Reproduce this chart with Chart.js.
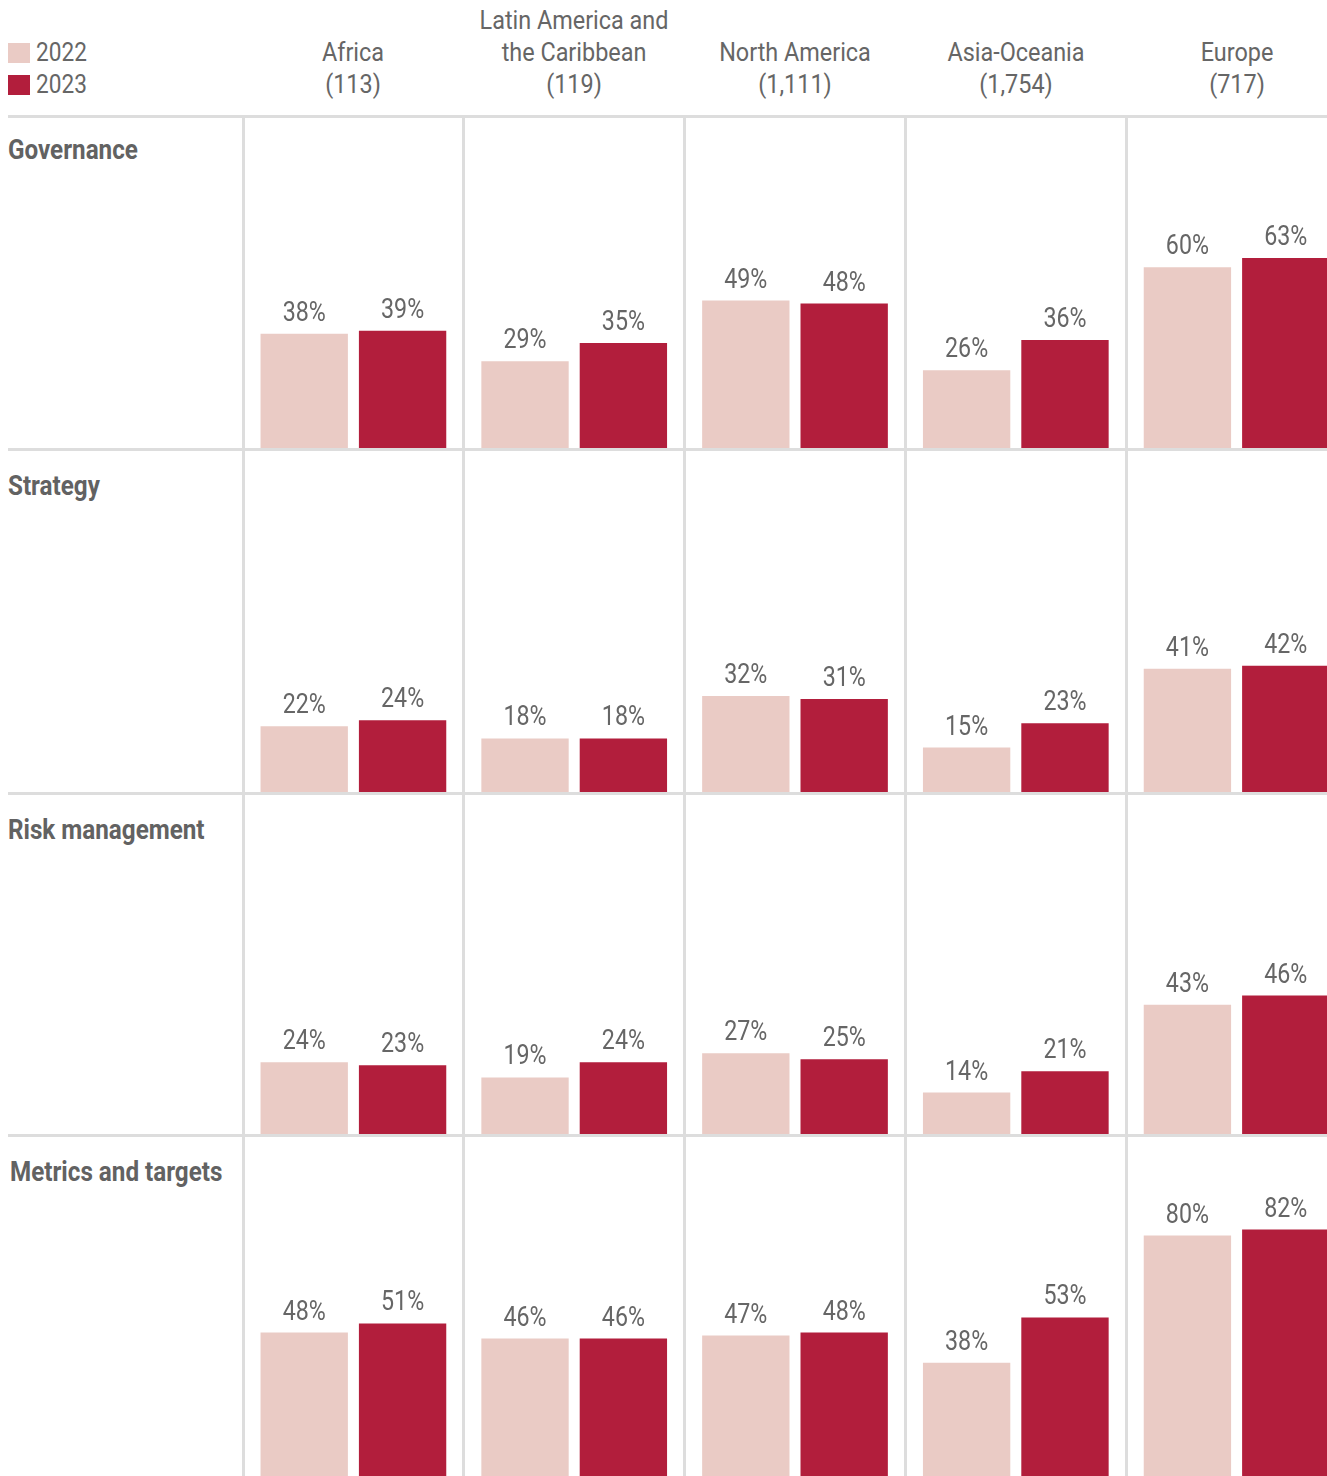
<!DOCTYPE html>
<html>
<head>
<meta charset="utf-8">
<script src="https://cdn.jsdelivr.net/npm/chart.js@4.4.1/dist/chart.umd.min.js"></script>
<style>
    body {
        margin: 0;
        width: 1327px;
        height: 1476px;
        overflow: hidden;
        background: #fff;
        position: relative;
        font-family: Roboto, 'Liberation Sans', sans-serif;
        color: #666;
    }
    .abs { position: absolute; }
    .hline { position: absolute; left: 8px; right: 0; height: 3px; background: #dddddd; z-index: 2; }
    .rowlabel { position: absolute; font-weight: bold; font-size: 28px; line-height: 30px; white-space: nowrap;
                transform: scaleX(0.865); transform-origin: left center; color: #626262; }
    .colhead { position: absolute; font-size: 26px; line-height: 32px; text-align: center; white-space: nowrap;
               transform: translateX(-50%) scaleX(0.9); }
    .legend-item { position: absolute; left: 8px; font-size: 26px; line-height: 32px; white-space: nowrap; }
    .legend-item span { display: inline-block; width: 22px; height: 20px; vertical-align: -2px; margin-right: 6px; }
    .legend-item b { font-weight: normal; display: inline-block; transform: scaleX(0.87); transform-origin: left center; }
</style>
</head>
<body>
<script>
// categories
const regions = ['Africa', 'Latin America and\nthe Caribbean', 'North America', 'Asia-Oceania', 'Europe'];
const regionCounts = ['113', '119', '1,111', '1,754', '717'];
const pillars = ['Governance', 'Strategy', 'Risk management', 'Metrics and targets'];
const years = ['2022', '2023'];

// share of companies disclosing (%), one list per pillar, in region order
const values2022 = [
    [38, 29, 49, 26, 60],   // governance
    [22, 18, 32, 15, 41],   // strategy
    [24, 19, 27, 14, 43],   // risk management
    [48, 46, 47, 38, 80]    // metrics and targets
];
const values2023 = [
    [39, 35, 48, 36, 63],
    [24, 18, 31, 23, 42],
    [23, 24, 25, 21, 46],
    [51, 46, 48, 53, 82]
];

// layout
const colors = ['#eacbc5', '#b21e3c'];
const rowLines = [116, 449, 793, 1135, 1478]; // separators, last one is below the page
const pxPerPct = 3.03;
const canvasLeft = 240;
const canvasWidth = 1110;
const labelFont = "27px Roboto, 'Liberation Sans', sans-serif";
const labelSqueeze = 0.86;

// value labels above bars (narrowed to look like a condensed face)
const valueLabels = {
    id: 'valueLabels',
    afterDatasetsDraw(chart) {
        const ctx = chart.ctx;
        ctx.save();
        ctx.font = labelFont;
        ctx.fillStyle = '#666';
        ctx.textAlign = 'center';
        ctx.textBaseline = 'alphabetic';
        chart.data.datasets.forEach((ds, i) => {
            chart.getDatasetMeta(i).data.forEach((bar, j) => {
                ctx.save();
                ctx.translate(bar.x, bar.y - 13);
                ctx.scale(labelSqueeze, 1);
                ctx.fillText(ds.data[j] + '%', 0, 0);
                ctx.restore();
            });
        });
        ctx.restore();
    }
};

function createRowChart(rowIndex) {
    const top = rowIndex == 0 ? rowLines[0] + 2 : rowLines[rowIndex];
    const bottom = rowLines[rowIndex + 1];
    const h = bottom - top;

    const wrap = document.createElement('div');
    wrap.className = 'abs';
    wrap.style.left = canvasLeft + 'px';
    wrap.style.top = top + 'px';
    const canvas = document.createElement('canvas');
    canvas.width = canvasWidth;
    canvas.height = h;
    wrap.appendChild(canvas);
    document.body.appendChild(wrap);

    // row title
    const lbl = document.createElement('div');
    lbl.className = 'rowlabel';
    lbl.textContent = pillars[rowIndex];
    lbl.style.left = (rowIndex == 3 ? 10 : 8) + 'px';
    lbl.style.top = (rowLines[rowIndex] + (rowIndex == 0 ? 19 : 22)) + 'px';
    document.body.appendChild(lbl);

    return new Chart(canvas, {
        type: 'bar',
        data: {
            labels: regions,
            datasets: [{
                label: years[0],
                data: values2022[rowIndex],
                backgroundColor: colors[0]
            }, {
                label: years[1],
                data: values2023[rowIndex],
                backgroundColor: colors[1]
            }]
        },
        options: {
            responsive: false,
            animation: false,
            devicePixelRatio: 1,
            categoryPercentage: 0.891,
            barPercentage: 0.888,
            layout: { padding: { left: 3, right: 3, top: 0, bottom: 0 } },
            plugins: {
                legend: { display: false },
                tooltip: { enabled: false }
            },
            scales: {
                x: {
                    offset: true,
                    grid: {
                        offset: true,
                        color: '#dddddd',
                        lineWidth: 3,
                        drawTicks: false
                    },
                    ticks: { display: false },
                    border: { display: false }
                },
                y: {
                    display: false,
                    min: 0,
                    max: h / pxPerPct
                }
            }
        },
        plugins: [valueLabels]
    });
}

// legend
years.forEach((y, i) => {
    const item = document.createElement('div');
    item.className = 'legend-item';
    item.style.top = (36 + i * 32) + 'px';
    item.innerHTML = '<span style="background:' + colors[i] + '"></span><b>' + y + '</b>';
    document.body.appendChild(item);
});

// separators
rowLines.slice(0, 4).forEach(y => {
    const line = document.createElement('div');
    line.className = 'hline';
    line.style.top = (y - 1) + 'px';
    document.body.appendChild(line);
});

const charts = [];
for (let r = 0; r < pillars.length; r++) {
    charts.push(createRowChart(r));
}

// column headers, centred on the chart's own categories
regions.forEach((name, i) => {
    const x = canvasLeft + charts[0].scales.x.getPixelForValue(i);
    const lines = name.split('\n').concat('(' + regionCounts[i] + ')');
    const head = document.createElement('div');
    head.className = 'colhead';
    head.style.left = x + 'px';
    head.style.top = (100 - lines.length * 32) + 'px';
    head.innerHTML = lines.join('<br>');
    document.body.appendChild(head);
});
</script>
</body>
</html>
